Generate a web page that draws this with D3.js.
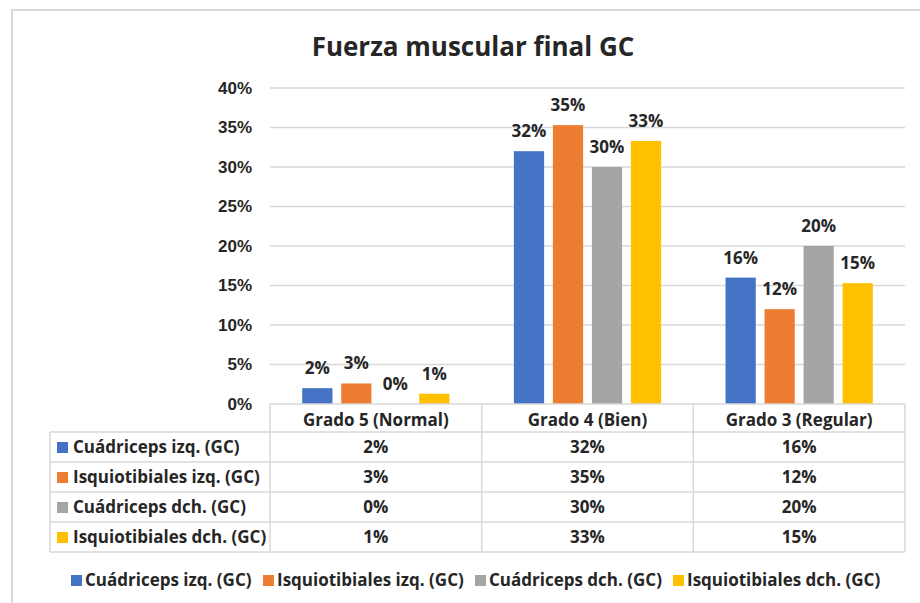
<!DOCTYPE html>
<html lang="es">
<head>
<meta charset="utf-8">
<title>Fuerza muscular final GC</title>
<script src="https://cdnjs.cloudflare.com/ajax/libs/d3/7.8.5/d3.min.js"></script>
<style>
  body { margin: 0; background: #fff; }
  svg { display: block; font-family: "Open Sans", "DejaVu Sans", sans-serif; }
  text { fill: #262626; font-weight: bold; }
  .grid line { stroke: #d9d9d9; stroke-width: 1.5; }
  .tbl line { stroke: #d9d9d9; stroke-width: 1.5; }
</style>
</head>
<body>
<svg width="920" height="603"></svg>
<script>
// datos
var categorias = ["Grado 5 (Normal)", "Grado 4 (Bien)", "Grado 3 (Regular)"];
var series = ["Cuádriceps izq. (GC)", "Isquiotibiales izq. (GC)", "Cuádriceps dch. (GC)", "Isquiotibiales dch. (GC)"];
var cuadIzq = [0.02, 0.32, 0.16];
var isqIzq  = [0.026, 0.353, 0.12];
var cuadDch = [0.0, 0.30, 0.20];
var isqDch  = [0.013, 0.333, 0.153];
var yTicks  = [0, 0.05, 0.10, 0.15, 0.20, 0.25, 0.30, 0.35, 0.40];
var colores = ["#4472C4", "#ED7D31", "#A5A5A5", "#FFC000"];

var valores = [cuadIzq, isqIzq, cuadDch, isqDch];
var fmt = d3.format(".0%");

var svg = d3.select("svg");

// marco
svg.append("rect")
    .attr("x", 12).attr("y", 10)
    .attr("width", 930).attr("height", 620)
    .attr("fill", "none").attr("stroke", "#d9d9d9").attr("stroke-width", 2);

// titulo
svg.append("text")
    .attr("x", 473).attr("y", 56)
    .attr("text-anchor", "middle")
    .style("font-size", "26px")
    .text("Fuerza muscular final GC");

var x0 = d3.scaleBand().domain(categorias).range([270, 905]);
var x1 = d3.scaleBand().domain(series).range([0, x0.bandwidth()])
    .paddingInner(0.225).paddingOuter(0.826);
var y = d3.scaleLinear().domain([0, 0.4]).range([404, 88]);
var color = d3.scaleOrdinal().domain(series).range(colores);

// lineas de cuadricula
svg.append("g").attr("class", "grid")
  .selectAll("line").data(yTicks.slice(1)).enter().append("line")
    .attr("x1", 270).attr("x2", 905)
    .attr("y1", function(d) { return y(d); })
    .attr("y2", function(d) { return y(d); });

// eje Y
var yAxis = svg.append("g")
    .attr("transform", "translate(270,0)")
    .call(d3.axisLeft(y).tickValues(yTicks).tickFormat(fmt).tickSize(0).tickPadding(18));
yAxis.select(".domain").remove();
yAxis.selectAll("text").style("font-size", "17px").attr("fill", "#262626");

// barras
var filas = [];
series.forEach(function(s, i) {
  categorias.forEach(function(c, j) {
    filas.push({ serie: s, cat: c, v: valores[i][j] });
  });
});

svg.append("g").selectAll("rect").data(filas).enter().append("rect")
    .attr("x", function(d) { return x0(d.cat) + x1(d.serie); })
    .attr("y", function(d) { return y(d.v); })
    .attr("width", x1.bandwidth())
    .attr("height", function(d) { return y(0) - y(d.v); })
    .attr("fill", function(d) { return color(d.serie); });

svg.append("g").selectAll("text").data(filas).enter().append("text")
    .attr("x", function(d) { return x0(d.cat) + x1(d.serie) + x1.bandwidth() / 2; })
    .attr("y", function(d) { return y(d.v) - 14; })
    .attr("text-anchor", "middle")
    .style("font-size", "17px")
    .text(function(d) { return fmt(d.v); });

// tabla de datos
var tabla = svg.append("g").attr("class", "tbl");
var top0 = 404, headH = 28, rowH = 30, left0 = 50;
var tBottom = top0 + headH + rowH * series.length;

// horizontales
tabla.append("line").attr("x1", 270).attr("x2", 905).attr("y1", top0).attr("y2", top0);
d3.range(series.length + 1).forEach(function(i) {
  var yy = top0 + headH + rowH * i;
  tabla.append("line").attr("x1", left0).attr("x2", 905).attr("y1", yy).attr("y2", yy);
});
// verticales
tabla.append("line").attr("x1", left0).attr("x2", left0).attr("y1", top0 + headH).attr("y2", tBottom);
tabla.selectAll(".v").data(categorias).enter().append("line")
    .attr("x1", function(d) { return x0(d); }).attr("x2", function(d) { return x0(d); })
    .attr("y1", top0).attr("y2", tBottom);
tabla.append("line").attr("x1", 905).attr("x2", 905).attr("y1", top0).attr("y2", tBottom);

// cabecera
tabla.selectAll(".h").data(categorias).enter().append("text")
    .attr("x", function(d) { return x0(d) + x0.bandwidth() / 2; })
    .attr("y", top0 + 22)
    .attr("text-anchor", "middle")
    .style("font-size", "17px")
    .text(function(d) { return d; });

// filas
series.forEach(function(s, i) {
  var cy = top0 + headH + rowH * i + rowH / 2;
  tabla.append("rect")
      .attr("x", 57).attr("y", cy - 5).attr("width", 11).attr("height", 11)
      .attr("fill", color(s));
  tabla.append("text")
      .attr("x", 73).attr("y", cy + 6)
      .style("font-size", "17px")
      .text(s);
  categorias.forEach(function(c, j) {
    tabla.append("text")
        .attr("x", x0(c) + x0.bandwidth() / 2).attr("y", cy + 6)
        .attr("text-anchor", "middle")
        .style("font-size", "17px")
        .text(fmt(valores[i][j]));
  });
});

// leyenda
var legX = [71, 263, 475, 673];
var leg = svg.append("g").selectAll("g").data(series).enter().append("g")
    .attr("transform", function(d, i) { return "translate(" + legX[i] + ",580)"; });
leg.append("rect")
    .attr("x", 0).attr("y", -5).attr("width", 11).attr("height", 11)
    .attr("fill", function(d) { return color(d); });
leg.append("text")
    .attr("x", 14).attr("y", 6)
    .style("font-size", "17px")
    .text(function(d) { return d; });
</script>
</body>
</html>
